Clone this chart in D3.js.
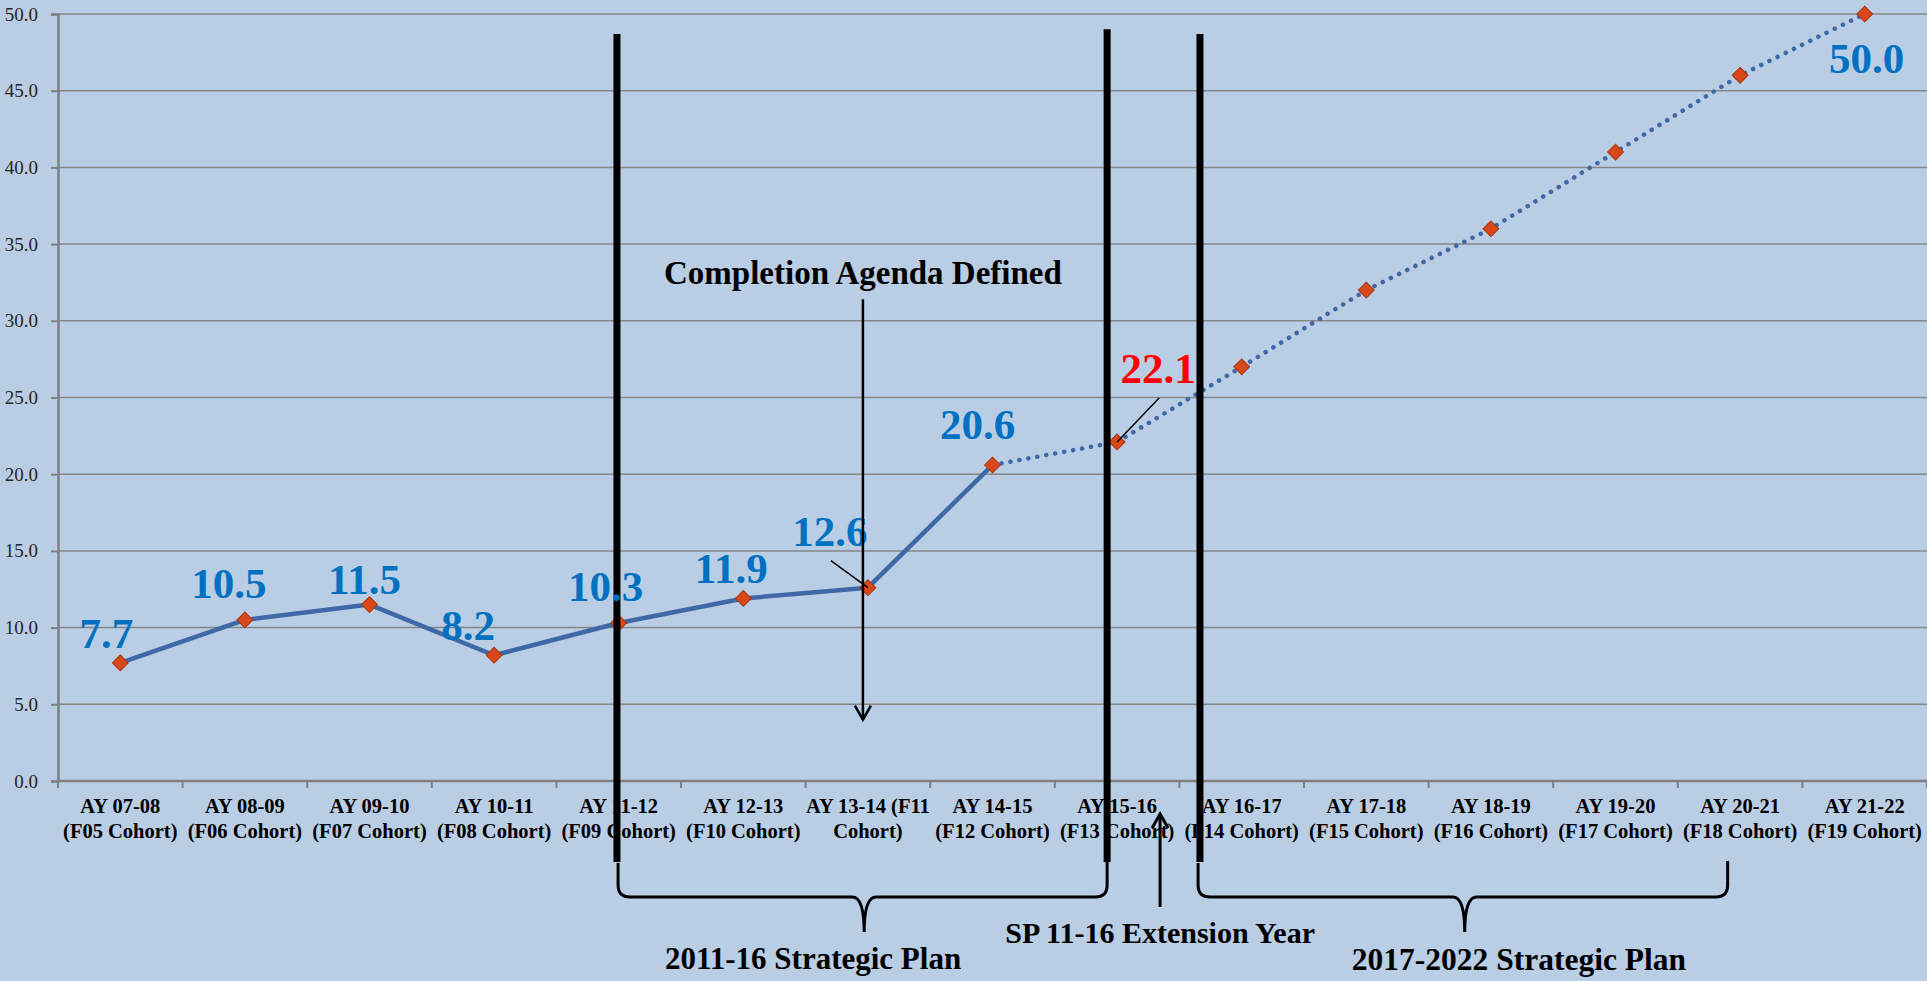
<!DOCTYPE html>
<html>
<head>
<meta charset="utf-8">
<script src="https://cdn.jsdelivr.net/npm/d3@7"></script>
<style>
  html, body { margin: 0; padding: 0; background: #B9CDE5; }
  svg { display: block; }
</style>
</head>
<body>
<script>
// chart data
var categories = [
  "AY 07-08\n(F05 Cohort)", "AY 08-09\n(F06 Cohort)", "AY 09-10\n(F07 Cohort)",
  "AY 10-11\n(F08 Cohort)", "AY 11-12\n(F09 Cohort)", "AY 12-13\n(F10 Cohort)",
  "AY 13-14 (F11\nCohort)", "AY 14-15\n(F12 Cohort)", "AY 15-16\n(F13 Cohort)",
  "AY 16-17\n(F14 Cohort)", "AY 17-18\n(F15 Cohort)", "AY 18-19\n(F16 Cohort)",
  "AY 19-20\n(F17 Cohort)", "AY 20-21\n(F18 Cohort)", "AY 21-22\n(F19 Cohort)"
];
var values = [7.7, 10.5, 11.5, 8.2, 10.3, 11.9, 12.6, 20.6, 22.1, 27, 32, 36, 41, 46, 50];
var lastSolid = 7;             // solid line up to AY 14-15, dotted after
var labeledIdx = [0, 1, 2, 3, 4, 5, 6, 7, 8, 14];
var redIdx = 8;                // 22.1 shown in red
var yTicks = [0, 5, 10, 15, 20, 25, 30, 35, 40, 45, 50];

// label placement (offset from point)
var labelOffsets = {
  0: [-14, -15], 1: [-16, -22], 2: [-5, -11], 3: [-26, -15], 4: [-13, -22],
  5: [-12, -15], 6: [-38, -42], 7: [-15, -26], 8: [41, -59], 14: [2, 59]
};

var W = 1927, H = 981;
var mLeft = 58, mRight = 1927, mTop = 14, mBottom = 781;

var svg = d3.select("body").append("svg")
  .attr("width", W)
  .attr("height", H);

svg.append("rect")
  .attr("width", W).attr("height", H)
  .attr("fill", "#B9CDE5");

var x = d3.scaleBand()
  .domain(d3.range(categories.length))
  .range([mLeft, mRight])
  .padding(0);
// continuous index scale for annotations
var xi = d3.scaleLinear().domain([0, categories.length]).range([mLeft, mRight]);
var y = d3.scaleLinear().domain([0, 50]).range([mBottom, mTop]);

function cx(i) { return x(i) + x.bandwidth() / 2; }

// gridlines
svg.append("g")
  .selectAll("line")
  .data(yTicks.slice(1))
  .enter()
  .append("line")
  .attr("x1", mLeft).attr("x2", mRight)
  .attr("y1", function (d) { return y(d); })
  .attr("y2", function (d) { return y(d); })
  .attr("stroke", "#868686")
  .attr("stroke-width", 1.5);

// y axis
var yAxis = d3.axisLeft(y)
  .tickValues(yTicks)
  .tickFormat(d3.format(".1f"))
  .tickSize(7)
  .tickPadding(13);

var gy = svg.append("g")
  .attr("transform", "translate(" + mLeft + ",0)")
  .call(yAxis);
gy.select(".domain").attr("stroke", "#7F7F7F").attr("stroke-width", 2.5);
gy.selectAll(".tick line").attr("stroke", "#7F7F7F").attr("stroke-width", 2);
gy.selectAll(".tick text")
  .attr("font-family", "Liberation Serif, serif")
  .attr("font-size", "19px")
  .attr("fill", "#262626")
  .attr("dy", "0.32em");

// x axis baseline and boundary ticks
svg.append("line")
  .attr("x1", mLeft).attr("x2", mRight)
  .attr("y1", mBottom).attr("y2", mBottom)
  .attr("stroke", "#7F7F7F")
  .attr("stroke-width", 2.5);

svg.append("g")
  .selectAll("line")
  .data(d3.range(categories.length + 1))
  .enter()
  .append("line")
  .attr("x1", function (d) { return xi(d); })
  .attr("x2", function (d) { return xi(d); })
  .attr("y1", mBottom).attr("y2", mBottom + 7)
  .attr("stroke", "#7F7F7F")
  .attr("stroke-width", 2);

var catText = svg.append("g")
  .selectAll("text")
  .data(categories)
  .enter()
  .append("text")
  .attr("text-anchor", "middle")
  .attr("font-family", "Liberation Serif, serif")
  .attr("font-weight", "bold")
  .attr("font-size", "20.5px")
  .attr("fill", "#000");

catText.each(function (d, i) {
  var lines = d.split("\n");
  var t = d3.select(this);
  lines.forEach(function (ln, k) {
    t.append("tspan")
      .attr("x", cx(i))
      .attr("y", mBottom + 32 + k * 25)
      .text(ln);
  });
});

// series lines
var line = d3.line()
  .x(function (d) { return cx(d.i); })
  .y(function (d) { return y(d.v); });

var pts = values.map(function (v, i) { return { i: i, v: v }; });

svg.append("path")
  .datum(pts.slice(0, lastSolid + 1))
  .attr("d", line)
  .attr("fill", "none")
  .attr("stroke", "#3F68A6")
  .attr("stroke-width", 4.5)
  .attr("stroke-linejoin", "round");

svg.append("path")
  .datum(pts.slice(lastSolid))
  .attr("d", line)
  .attr("fill", "none")
  .attr("stroke", "#3F68A6")
  .attr("stroke-width", 4.5)
  .attr("stroke-linecap", "round")
  .attr("stroke-dasharray", "0.1 9");

// markers
svg.append("g")
  .selectAll("path")
  .data(pts)
  .enter()
  .append("path")
  .attr("d", d3.symbol().type(d3.symbolSquare).size(125))
  .attr("transform", function (d) {
    return "translate(" + cx(d.i) + "," + y(d.v) + ") rotate(45)";
  })
  .attr("fill", "#D9481A")
  .attr("stroke", "#A8350F")
  .attr("stroke-width", 1);

// vertical plan dividers
var dividers = [[4.486, 48.7], [8.42, 49.0], [9.165, 48.7]];
svg.append("g")
  .selectAll("line")
  .data(dividers)
  .enter()
  .append("line")
  .attr("x1", function (d) { return xi(d[0]); })
  .attr("x2", function (d) { return xi(d[0]); })
  .attr("y1", function (d) { return y(d[1]); })
  .attr("y2", mBottom + 81)
  .attr("stroke", "#000")
  .attr("stroke-width", 7);

// leader lines for 12.6 and 22.1
var leaders = [[6, -37, -27], [8, 42, -44]];
svg.append("g")
  .selectAll("line")
  .data(leaders)
  .enter()
  .append("line")
  .attr("x1", function (d) { return cx(d[0]) + d[1]; })
  .attr("y1", function (d) { return y(values[d[0]]) + d[2]; })
  .attr("x2", function (d) { return cx(d[0]); })
  .attr("y2", function (d) { return y(values[d[0]]); })
  .attr("stroke", "#000")
  .attr("stroke-width", 1.5);

// data labels
svg.append("g")
  .selectAll("text")
  .data(labeledIdx)
  .enter()
  .append("text")
  .attr("x", function (i) { return cx(i) + labelOffsets[i][0]; })
  .attr("y", function (i) { return y(values[i]) + labelOffsets[i][1]; })
  .attr("text-anchor", "middle")
  .attr("font-family", "Liberation Serif, serif")
  .attr("font-weight", "bold")
  .attr("font-size", "43px")
  .attr("fill", function (i) { return i === redIdx ? "#FF0000" : "#0070C0"; })
  .text(function (i) { return values[i].toFixed(1); });

// Completion agenda annotation
var agendaX = xi(6.46);
svg.append("text")
  .attr("x", agendaX)
  .attr("y", y(32.4))
  .attr("text-anchor", "middle")
  .attr("font-family", "Liberation Serif, serif")
  .attr("font-weight", "bold")
  .attr("font-size", "33px")
  .attr("fill", "#000")
  .text("Completion Agenda Defined");

function arrow(g, x0, y0, x1, y1, w) {
  var dir = y1 > y0 ? 1 : -1;
  g.append("line")
    .attr("x1", x0).attr("y1", y0)
    .attr("x2", x1).attr("y2", y1)
    .attr("stroke", "#000").attr("stroke-width", w);
  g.append("path")
    .attr("d", "M" + (x1 - 8) + "," + (y1 - dir * 14) + "L" + x1 + "," + y1 + "L" + (x1 + 8) + "," + (y1 - dir * 14))
    .attr("fill", "none")
    .attr("stroke", "#000")
    .attr("stroke-width", w);
}

var ann = svg.append("g");
arrow(ann, agendaX, y(31.4), agendaX, y(4.0), 2.5);
arrow(ann, xi(8.845), mBottom + 126, xi(8.845), mBottom + 33, 3);

// braces
function brace(x1, x2, xt, yTop1, yTop2, yH, yTip) {
  var r = 12;
  return "M" + x1 + "," + yTop1 +
    "L" + x1 + "," + (yH - r) +
    "Q" + x1 + "," + yH + " " + (x1 + r) + "," + yH +
    "L" + (xt - r) + "," + yH +
    "Q" + xt + "," + yH + " " + xt + "," + yTip +
    "Q" + xt + "," + yH + " " + (xt + r) + "," + yH +
    "L" + (x2 - r) + "," + yH +
    "Q" + x2 + "," + yH + " " + x2 + "," + (yH - r) +
    "L" + x2 + "," + yTop2;
}

var braces = [
  [xi(4.495), xi(8.42), xi(6.47)],
  [xi(9.15), xi(13.4), xi(11.29)]
];
svg.append("g")
  .selectAll("path")
  .data(braces)
  .enter()
  .append("path")
  .attr("d", function (d) { return brace(d[0], d[1], d[2], mBottom + 82, mBottom + 80, mBottom + 116, mBottom + 151); })
  .attr("fill", "none")
  .attr("stroke", "#000")
  .attr("stroke-width", 3);

var notes = [
  ["2011-16 Strategic Plan", xi(6.06), mBottom + 188, 31],
  ["SP 11-16 Extension Year", xi(8.845), mBottom + 162, 30],
  ["2017-2022 Strategic Plan", xi(11.725), mBottom + 189, 31.5]
];
svg.append("g")
  .selectAll("text")
  .data(notes)
  .enter()
  .append("text")
  .attr("x", function (d) { return d[1]; })
  .attr("y", function (d) { return d[2]; })
  .attr("text-anchor", "middle")
  .attr("font-family", "Liberation Serif, serif")
  .attr("font-weight", "bold")
  .attr("font-size", function (d) { return d[3] + "px"; })
  .attr("fill", "#000")
  .text(function (d) { return d[0]; });
</script>
</body>
</html>
